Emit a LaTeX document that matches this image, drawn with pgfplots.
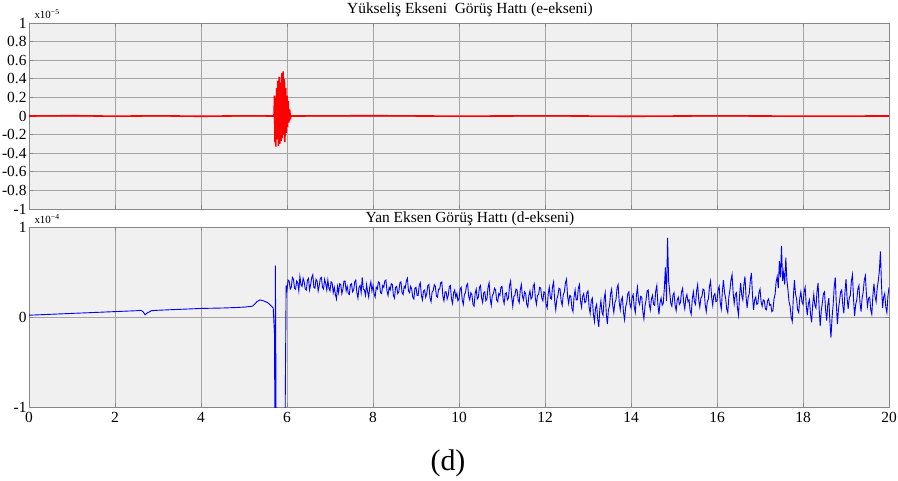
\documentclass[border=0pt]{standalone}
\usepackage{fontspec}
\setmainfont{Liberation Serif}
\usepackage{pgfplots}
\pgfplotsset{compat=1.18}
\definecolor{bgc}{RGB}{240,240,240}
\definecolor{gridc}{RGB}{165,165,165}
\definecolor{framec}{RGB}{135,135,135}
\pgfplotsset{
  mystyle/.style={
    scale only axis, width=860bp, xmin=0, xmax=20, ymin=-1, ymax=1,
    axis background/.style={fill=bgc},
    grid=major, major grid style={draw=gridc, line width=0.7bp},
    axis line style={draw=framec, line width=0.9bp},
    tick style={draw=framec, line width=0.7bp},
    tick align=inside, major tick length=4bp,
    xtick={0,2,4,6,8,10,12,14,16,18,20},
    /pgf/number format/assume math mode=true,
    tick label style={font=\fontsize{15.5}{15.5}\selectfont},
    yticklabel style={/pgf/number format/fixed, xshift=1bp},
    xticklabel style={yshift=-2bp},
  }
}
\begin{document}
\begin{tikzpicture}[x=1bp,y=1bp]
\path[use as bounding box] (0,0) rectangle (898,-481);
\begin{axis}[mystyle, at={(29bp,-209bp)}, anchor=south west, height=186bp,
  xticklabels={},
  ytick={-1,-0.8,-0.6,-0.4,-0.2,0,0.2,0.4,0.6,0.8,1},
  yticklabels={-1,-0.8,-0.6,-0.4,-0.2,0,0.2,0.4,0.6,0.8,1}]
\addplot[red, line width=1.6bp] coordinates {
(0,0) (1,0.003) (2,-0.002) (3,0.002) (4,-0.003) (5,0.002) (5.68,0)
(5.70,0.02) (5.71,0.22) (5.72,-0.28) (5.73,0.18) (5.74,-0.33) (5.76,0.30)
(5.77,-0.25) (5.79,0.38) (5.80,-0.32) (5.82,0.42) (5.83,-0.30) (5.85,0.36)
(5.86,-0.27) (5.88,0.46) (5.89,-0.24) (5.91,0.48) (5.92,-0.20) (5.94,0.40)
(5.95,-0.28) (5.97,0.30) (5.98,-0.18) (6.00,0.22) (6.01,-0.12) (6.03,0.16)
(6.04,-0.07) (6.06,0.07) (6.08,-0.02) (6.10,0)
(8,0.003) (10,-0.002) (12,0.002) (14,-0.003) (16,0.002) (18,-0.002) (20,0)
};
\end{axis}
\node[font=\fontsize{15.5}{15.5}\selectfont] at (470,-10) {Yükseliş Ekseni \ Görüş Hattı (e-ekseni)};
\node[anchor=west, font=\fontsize{11}{11}\selectfont] at (31,-14) {x10\textsuperscript{−5}};
\begin{axis}[mystyle, at={(29bp,-407bp)}, anchor=south west, height=180bp,
  ytick={-1,0,1}, yticklabels={-1,0,1}]
\addplot[blue, line width=0.9bp] coordinates {
(0,0.02) (0.5,0.03) (1,0.04) (1.5,0.05) (2,0.06) (2.5,0.07) (2.6,0.075)
(2.65,0.06) (2.7,0.025) (2.75,0.045) (2.85,0.07) (3,0.075) (3.5,0.085)
(4,0.095) (4.5,0.10) (4.8,0.105) (5.0,0.11) (5.1,0.115) (5.2,0.12)
(5.3,0.17) (5.37,0.19) (5.45,0.18) (5.55,0.16) (5.62,0.13) (5.68,0.10)
(5.71,-0.2) (5.72,-1.5) (5.73,0.57) (5.75,-1.5) (5.95,-1.5) (5.98,0.35)
(6.000,0.30) (6.025,0.41) (6.050,0.40) (6.075,0.31) (6.100,0.33) (6.125,0.44) (6.150,0.42) (6.175,0.32) (6.200,0.31) (6.225,0.40)
(6.250,0.38) (6.275,0.29) (6.300,0.45) (6.325,0.36) (6.350,0.34) (6.375,0.43) (6.400,0.39) (6.425,0.31) (6.450,0.30) (6.475,0.41)
(6.500,0.43) (6.525,0.30) (6.550,0.36) (6.575,0.44) (6.600,0.47) (6.625,0.33) (6.650,0.32) (6.675,0.42) (6.700,0.40) (6.725,0.29)
(6.750,0.35) (6.775,0.43) (6.800,0.44) (6.825,0.33) (6.850,0.31) (6.875,0.42) (6.900,0.37) (6.925,0.30) (6.950,0.41) (6.975,0.32)
(7.000,0.29) (7.025,0.39) (7.050,0.38) (7.075,0.27) (7.100,0.33) (7.125,0.25) (7.150,0.20) (7.175,0.34) (7.200,0.27) (7.225,0.37)
(7.250,0.36) (7.275,0.26) (7.300,0.31) (7.325,0.40) (7.350,0.40) (7.375,0.29) (7.400,0.34) (7.425,0.26) (7.450,0.25) (7.475,0.36)
(7.500,0.37) (7.525,0.28) (7.550,0.30) (7.575,0.39) (7.600,0.41) (7.625,0.27) (7.650,0.21) (7.675,0.33) (7.700,0.35) (7.725,0.27)
(7.750,0.44) (7.775,0.31) (7.800,0.30) (7.825,0.24) (7.850,0.36) (7.875,0.28) (7.900,0.22) (7.925,0.34) (7.950,0.39) (7.975,0.29)
(8.000,0.35) (8.025,0.26) (8.050,0.22) (8.075,0.33) (8.100,0.31) (8.125,0.39) (8.150,0.38) (8.175,0.27) (8.200,0.26) (8.225,0.35)
(8.250,0.33) (8.275,0.40) (8.300,0.41) (8.325,0.29) (8.350,0.24) (8.375,0.33) (8.400,0.30) (8.425,0.37) (8.450,0.36) (8.475,0.24)
(8.500,0.21) (8.525,0.33) (8.550,0.34) (8.575,0.26) (8.600,0.28) (8.625,0.38) (8.650,0.39) (8.675,0.27) (8.700,0.25) (8.725,0.34)
(8.750,0.32) (8.775,0.40) (8.800,0.43) (8.825,0.29) (8.850,0.27) (8.875,0.34) (8.900,0.31) (8.925,0.22) (8.950,0.20) (8.975,0.32)
(9.000,0.33) (9.025,0.24) (9.050,0.24) (9.075,0.35) (9.100,0.38) (9.125,0.24) (9.150,0.19) (9.175,0.29) (9.200,0.30) (9.225,0.22)
(9.250,0.26) (9.275,0.35) (9.300,0.36) (9.325,0.21) (9.350,0.17) (9.375,0.28) (9.400,0.29) (9.425,0.36) (9.450,0.34) (9.475,0.23)
(9.500,0.22) (9.525,0.31) (9.550,0.31) (9.575,0.38) (9.600,0.39) (9.625,0.23) (9.650,0.18) (9.675,0.28) (9.700,0.28) (9.725,0.20)
(9.750,0.24) (9.775,0.34) (9.800,0.35) (9.825,0.20) (9.850,0.15) (9.875,0.27) (9.900,0.30) (9.925,0.22) (9.950,0.26) (9.975,0.18)
(10.000,0.20) (10.025,0.31) (10.050,0.33) (10.075,0.19) (10.100,0.14) (10.125,0.25) (10.150,0.27) (10.175,0.35) (10.200,0.37) (10.225,0.23)
(10.250,0.19) (10.275,0.27) (10.300,0.25) (10.325,0.14) (10.350,0.12) (10.375,0.26) (10.400,0.31) (10.425,0.20) (10.450,0.22) (10.475,0.33)
(10.500,0.35) (10.525,0.21) (10.550,0.16) (10.575,0.27) (10.600,0.28) (10.625,0.18) (10.650,0.20) (10.675,0.33) (10.700,0.38) (10.725,0.21)
(10.750,0.13) (10.775,0.24) (10.800,0.26) (10.825,0.32) (10.850,0.30) (10.875,0.19) (10.900,0.17) (10.925,0.26) (10.950,0.24) (10.975,0.33)
(11.000,0.34) (11.025,0.20) (11.050,0.15) (11.075,0.26) (11.100,0.27) (11.125,0.19) (11.150,0.21) (11.175,0.35) (11.200,0.40) (11.225,0.22)
(11.250,0.12) (11.275,0.23) (11.300,0.24) (11.325,0.31) (11.350,0.30) (11.375,0.19) (11.400,0.16) (11.425,0.30) (11.450,0.36) (11.475,0.23)
(11.500,0.19) (11.525,0.28) (11.550,0.26) (11.575,0.14) (11.600,0.11) (11.625,0.24) (11.650,0.29) (11.675,0.20) (11.700,0.22) (11.725,0.34)
(11.750,0.37) (11.775,0.21) (11.800,0.14) (11.825,0.24) (11.850,0.25) (11.875,0.33) (11.900,0.32) (11.925,0.21) (11.950,0.18) (11.975,0.28)
(12.000,0.27) (12.025,0.14) (12.050,0.10) (12.075,0.26) (12.100,0.33) (12.125,0.21) (12.150,0.20) (12.175,0.34) (12.200,0.39) (12.225,0.18)
(12.250,0.08) (12.275,0.20) (12.300,0.24) (12.325,0.32) (12.350,0.31) (12.375,0.18) (12.400,0.13) (12.425,0.25) (12.450,0.28) (12.475,0.38)
(12.500,0.42) (12.525,0.23) (12.550,0.15) (12.575,0.24) (12.600,0.23) (12.625,0.10) (12.650,0.06) (12.675,0.22) (12.700,0.30) (12.725,0.19)
(12.750,0.19) (12.775,0.32) (12.800,0.36) (12.825,0.18) (12.850,0.11) (12.875,0.23) (12.900,0.26) (12.925,0.16) (12.950,0.17) (12.975,0.27)
(13.000,0.29) (13.025,0.11) (13.050,0.04) (13.075,0.18) (13.100,0.21) (13.125,0.03) (13.150,-0.05) (13.175,0.10) (13.200,0.14) (13.225,-0.02)
(13.250,-0.11) (13.275,0.09) (13.300,0.18) (13.325,0.05) (13.350,0.02) (13.375,0.20) (13.400,0.27) (13.425,0.04) (13.450,-0.08) (13.475,0.08)
(13.500,0.12) (13.525,0.26) (13.550,0.31) (13.575,0.13) (13.600,0.05) (13.625,0.16) (13.650,0.19) (13.675,0.32) (13.700,0.36) (13.725,0.17)
(13.750,0.08) (13.775,0.19) (13.800,0.22) (13.825,0.05) (13.850,-0.03) (13.875,0.11) (13.900,0.16) (13.925,0.26) (13.950,0.28) (13.975,0.14)
(14.000,0.10) (14.025,0.22) (14.050,0.25) (14.075,0.11) (14.100,0.05) (14.125,0.24) (14.150,0.33) (14.175,0.18) (14.200,0.14) (14.225,0.23)
(14.250,0.22) (14.275,0.06) (14.300,-0.02) (14.325,0.12) (14.350,0.19) (14.375,0.29) (14.400,0.30) (14.425,0.14) (14.450,0.08) (14.475,0.20)
(14.500,0.24) (14.525,0.14) (14.550,0.13) (14.575,0.29) (14.600,0.35) (14.625,0.14) (14.650,0.03) (14.675,0.16) (14.700,0.21) (14.725,0.13)
(14.750,0.15) (14.775,0.32) (14.800,0.55) (14.825,0.18) (14.850,0.88) (14.875,0.40) (14.900,0.28) (14.925,0.15) (14.950,0.12) (14.975,0.24)
(15.000,0.27) (15.025,0.13) (15.050,0.07) (15.075,0.19) (15.100,0.22) (15.125,0.14) (15.150,0.16) (15.175,0.28) (15.200,0.32) (15.225,0.16)
(15.250,0.09) (15.275,0.21) (15.300,0.25) (15.325,0.17) (15.350,0.19) (15.375,0.07) (15.400,0.03) (15.425,0.20) (15.450,0.28) (15.475,0.17)
(15.500,0.14) (15.525,0.29) (15.550,0.36) (15.575,0.19) (15.600,0.11) (15.625,0.21) (15.650,0.23) (15.675,0.31) (15.700,0.30) (15.725,0.14)
(15.750,0.06) (15.775,0.17) (15.800,0.20) (15.825,0.34) (15.850,0.40) (15.875,0.22) (15.900,0.13) (15.925,0.24) (15.950,0.26) (15.975,0.17)
(16.000,0.18) (16.025,0.30) (16.050,0.34) (16.075,0.16) (16.100,0.09) (16.125,0.29) (16.150,0.41) (16.175,0.27) (16.200,0.21) (16.225,0.09)
(16.250,0.05) (16.275,0.22) (16.300,0.30) (16.325,0.41) (16.350,0.47) (16.375,0.27) (16.400,0.15) (16.425,0.25) (16.450,0.27) (16.475,0.10)
(16.500,0.02) (16.525,0.24) (16.550,0.38) (16.575,0.24) (16.600,0.19) (16.625,0.36) (16.650,0.45) (16.675,0.23) (16.700,0.10) (16.725,0.22)
(16.750,0.26) (16.775,0.41) (16.800,0.49) (16.825,0.24) (16.850,0.08) (16.875,0.19) (16.900,0.22) (16.925,0.14) (16.950,0.15) (16.975,0.27)
(17.000,0.31) (17.025,0.17) (17.050,0.12) (17.075,0.19) (17.100,0.18) (17.125,0.09) (17.150,0.08) (17.175,0.18) (17.200,0.20) (17.225,0.13)
(17.250,0.14) (17.275,0.06) (17.300,0.07) (17.325,0.20) (17.350,0.25) (17.375,0.39) (17.400,0.45) (17.425,0.32) (17.450,0.62) (17.475,0.44)
(17.500,0.79) (17.525,0.40) (17.550,0.50) (17.575,0.36) (17.600,0.66) (17.625,0.41) (17.650,0.30) (17.675,0.17) (17.700,0.12) (17.725,0.00)
(17.750,-0.05) (17.775,0.22) (17.800,0.41) (17.825,0.26) (17.850,0.20) (17.875,0.08) (17.900,0.05) (17.925,0.21) (17.950,0.28) (17.975,0.17)
(18.000,0.14) (18.025,0.28) (18.050,0.33) (18.075,0.13) (18.100,0.02) (18.125,0.15) (18.150,0.19) (18.175,0.03) (18.200,-0.06) (18.225,0.14)
(18.250,0.25) (18.275,0.13) (18.300,0.10) (18.325,0.28) (18.350,0.38) (18.375,0.10) (18.400,-0.10) (18.425,0.07) (18.450,0.16) (18.475,0.26)
(18.500,0.28) (18.525,0.08) (18.550,-0.04) (18.575,0.13) (18.600,0.21) (18.625,-0.05) (18.650,-0.23) (18.675,-0.01) (18.700,0.13) (18.725,0.33)
(18.750,0.44) (18.775,0.14) (18.800,-0.08) (18.825,0.09) (18.850,0.18) (18.875,0.28) (18.900,0.30) (18.925,0.13) (18.950,0.04) (18.975,0.27)
(19.000,0.42) (19.025,0.21) (19.050,0.09) (19.075,0.21) (19.100,0.24) (19.125,0.40) (19.150,0.47) (19.175,0.20) (19.200,0.01) (19.225,0.14)
(19.250,0.19) (19.275,0.31) (19.300,0.35) (19.325,0.16) (19.350,0.06) (19.375,0.21) (19.400,0.28) (19.425,0.41) (19.450,0.46) (19.475,0.25)
(19.500,0.12) (19.525,0.21) (19.550,0.22) (19.575,0.08) (19.600,0.03) (19.625,0.24) (19.650,0.37) (19.675,0.23) (19.700,0.17) (19.725,0.32)
(19.750,0.40) (19.775,0.51) (19.800,0.73) (19.825,0.36) (19.850,0.10) (19.875,0.22) (19.900,0.26) (19.925,0.11) (19.950,0.05) (19.975,0.23)
(20.000,0.33)
};
\end{axis}
\node[font=\fontsize{15.5}{15.5}\selectfont] at (470,-219) {Yan Eksen Görüş Hattı (d-ekseni)};
\node[anchor=west, font=\fontsize{11}{11}\selectfont] at (31,-219) {x10\textsuperscript{−4}};
\node[font=\fontsize{30}{30}\selectfont] at (448,-463) {(d)};
\end{tikzpicture}
\end{document}
